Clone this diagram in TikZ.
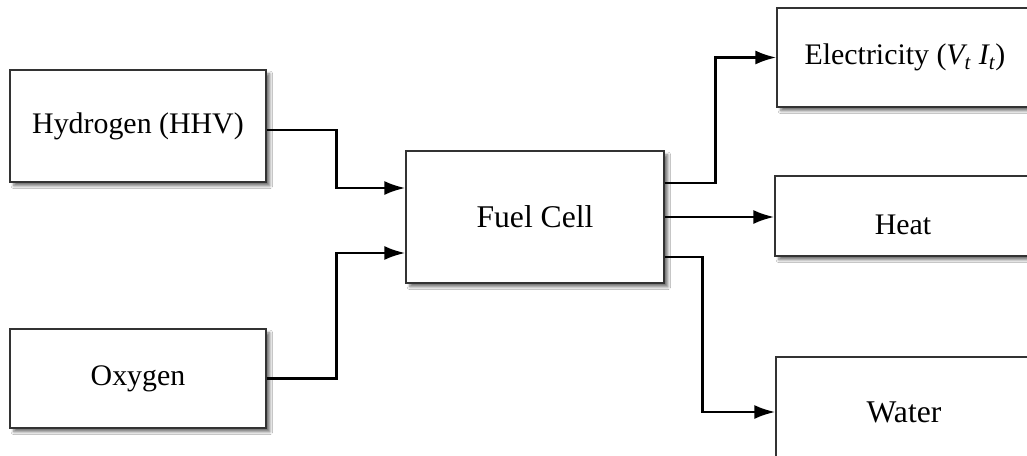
\documentclass[tikz,border=0pt]{standalone}
\usepackage{fontspec}
\setmainfont{Liberation Serif}
\usepackage{tikz}
\usetikzlibrary{arrows.meta, positioning, shadows.blur}

\begin{document}
\begin{tikzpicture}[
  x=0.02cm, y=-0.02cm,
  block/.style={draw=black!80, line width=0.7pt, fill=white, inner sep=0pt,
    minimum width=5.12cm, font=\fontsize{17}{20}\selectfont,
    blur shadow={shadow xshift=2.2pt, shadow yshift=-2.2pt, shadow blur steps=6,
      shadow blur radius=1.6pt, shadow opacity=55}},
  flow/.style={line width=1.6pt, -{Latex[length=12pt, width=8pt]}},
  every node/.style={text=black}
]
  \clip (0,0) rectangle (1027,456);
  \fill[white] (0,0) rectangle (1027,456);

  % Inputs
  \node[block, minimum height=2.24cm] (hyd) at (138,126) {Hydrogen (HHV)};
  \node[block, minimum height=1.98cm] (oxy) at (138,378.5) {Oxygen};

  % Fuel cell
  \node[block, minimum width=5.16cm, minimum height=2.64cm,
    font=\fontsize{18}{21}\selectfont] (fc) at (535,217) {Fuel Cell};

  % Outputs
  \node[block, minimum height=1.98cm] (elec) at (905,57.5)
    {Electricity (\textit{V\textsubscript{t} I\textsubscript{t}})};
  \node[block, minimum height=1.6cm] (heat) at (903,216) {};
  \node[font=\fontsize{17}{20}\selectfont] (heatlbl) at (903,225) {Heat};
  \node[block, minimum height=2.2cm, font=\fontsize{18}{21}\selectfont] (water) at (904,412) {Water};

  % Connectors in
  \draw[flow] ([yshift=-0.08cm]hyd.east) -- ++(70,0) |- ([yshift=0.58cm]fc.west);
  \draw[flow] (oxy.east) -- ++(70,0) |- ([yshift=-0.72cm]fc.west);

  % Connectors out
  \draw[flow] ([yshift=0.68cm]fc.east) -- ++(51,0) |- (elec.west);
  \draw[flow] (fc.east) -- (fc.east -| heat.west);
  \draw[flow] ([yshift=-0.8cm]fc.east) -- ++(38,0) |- (water.west);
\end{tikzpicture}
\end{document}
